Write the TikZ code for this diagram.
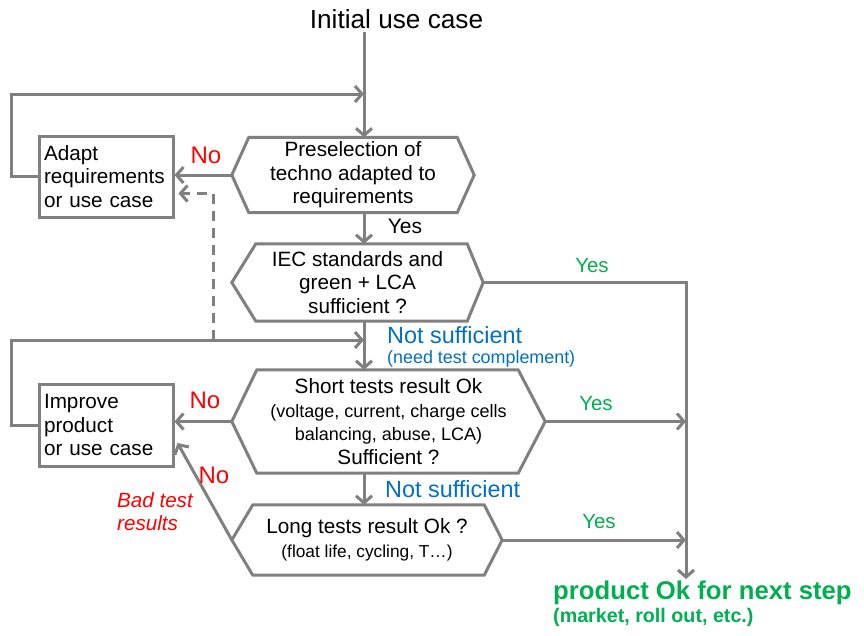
\documentclass[tikz,border=0pt]{standalone}
\usepackage{fontspec}
\setmainfont{Liberation Sans}
\usepackage{tikz}
\usetikzlibrary{arrows.meta,positioning}
\definecolor{mygray}{RGB}{128,128,128}
\definecolor{myred}{RGB}{255,0,0}
\definecolor{mygreen}{RGB}{0,176,80}
\definecolor{myblue}{RGB}{0,112,192}
\newcommand{\mainsize}{\fontsize{20.7}{23.5}\selectfont}
\newcommand{\notesize}{\fontsize{18}{23.5}\selectfont}

\begin{document}
\begin{tikzpicture}[x=1pt, y=-1pt,
    hexa/.style={inner sep=0pt, align=center, font=\mainsize},
    box/.style={rectangle, draw=mygray, line width=3pt, align=left, text width=124pt,
                inner xsep=5pt, inner ysep=0pt, font=\mainsize},
    hexline/.style={draw=mygray, line width=3pt, line join=miter},
    arr/.style={-{Straight Barb[length=7pt, width=16pt]}, mygray, line width=3pt},
    dasharr/.style={arr, dash pattern=on 10pt off 7pt},
    nolbl/.style={font=\fontsize{24}{28}\selectfont, text=myred},
    yeslbl/.style={font=\fontsize{20.5}{24}\selectfont, text=mygreen},
    insuf/.style={font=\fontsize{23.4}{28}\selectfont, text=myblue, anchor=base west, inner sep=0pt}]
\useasboundingbox (0,0) rectangle (864,635);
\coordinate (ax) at (364,0);
\coordinate (top1) at (364,94);
\coordinate (top2) at (364,340);
\coordinate (dsh) at (213,340);
\coordinate (goal) at (686,579);
\node[font=\fontsize{26.2}{30}\selectfont, anchor=base] (title) at (396.5,28) {Initial use case};
\node[hexa, minimum width=242pt, minimum height=75pt] (pre) at (353,175) {Preselection of\\techno adapted to\\requirements};
\node[hexa, minimum width=251pt, minimum height=77pt] (iec) at (357.5,282.5) {IEC standards and\\green + LCA\\sufficient ?};
\node[hexa, minimum width=313pt, minimum height=103pt] (short) at (388.5,421.5) {Short tests result Ok\\\notesize (voltage, current, charge cells\\\notesize balancing, abuse, LCA)\\\mainsize Sufficient ?};
\node[hexa, minimum width=270pt, minimum height=70pt] (long) at (367,540) {Long tests result Ok ?\\\fontsize{17.3}{23}\selectfont (float life, cycling, T…)};
\node[box, minimum height=81pt] (adapt) at (106,176.5) {Adapt\\requirements\\or use case};
\node[box, minimum height=82pt] (improve) at (106,425) {Improve\\product\\or use case};
\node[anchor=base west, inner sep=0pt, text=mygreen, font=\fontsize{25.7}{30}\selectfont\bfseries] (fin) at (553,599) {product Ok for next step};
\node[anchor=base west, inner sep=0pt, text=mygreen, font=\fontsize{19.7}{24}\selectfont\bfseries] (finsub) at (553,622) {(market, roll out, etc.)};
% hexagon outlines
\draw[hexline] ([xshift=17pt]pre.north west) -- ([xshift=-17pt]pre.north east) -- (pre.east) -- ([xshift=-17pt]pre.south east) -- ([xshift=17pt]pre.south west) -- (pre.west) -- cycle;
\draw[hexline] ([xshift=24pt]iec.north west) -- ([xshift=-16pt]iec.north east) -- (iec.east) -- ([xshift=-16pt]iec.south east) -- ([xshift=24pt]iec.south west) -- (iec.west) -- cycle;
\draw[hexline] ([xshift=25pt]short.north west) -- ([xshift=-27pt]short.north east) -- (short.east) -- ([xshift=-27pt]short.south east) -- ([xshift=25pt]short.south west) -- (short.west) -- cycle;
\draw[hexline] ([xshift=21pt]long.north west) -- ([xshift=-18pt]long.north east) -- (long.east) -- ([xshift=-18pt]long.south east) -- ([xshift=21pt]long.south west) -- (long.west) -- cycle;
% connectors
\draw[arr] (title.south -| ax) -- (pre.north -| ax);
\draw[arr] (pre.west) -- (pre.west -| adapt.east);
\node[nolbl] (no1) at (206,155) {No};
\draw[arr] (adapt.west) -- ++(-26,0) |- (top1);
\draw[dasharr] (dsh) |- ([shift={(4pt,-17pt)}]adapt.east);
\draw[arr] (pre.south -| ax) -- (iec.north -| ax);
\node[font=\fontsize{21}{24}\selectfont] (yes1) at (405,226) {Yes};
\draw[arr] (iec.east) -| (goal);
\node[yeslbl] (yes2) at (592,266) {Yes};
\draw[arr] (iec.south -| ax) -- (short.north -| ax);
\node[insuf] (ns1) at (387,343) {Not sufficient};
\node[anchor=base west, inner sep=0pt, text=myblue, font=\fontsize{17.9}{22}\selectfont] (need) at (387,363) {(need test complement)};
\draw[arr] (improve.west) -- ++(-26,0) |- (top2);
\draw[arr] (short.west) -- (short.west -| improve.east);
\node[nolbl] (no2) at (205,400) {No};
\draw[arr] (short.east) -- (short.east -| goal);
\node[yeslbl] (yes3) at (596,404) {Yes};
\draw[arr] (short.south -| ax) -- (long.north -| ax);
\node[insuf] (ns2) at (385,497) {Not sufficient};
\draw[arr] (long.east) -- (long.east -| goal);
\node[yeslbl] (yes4) at (599,522) {Yes};
\draw[arr] (long.west) -- ([shift={(3pt,-18pt)}]improve.east);
\node[nolbl] (no3) at (214,475) {No};
\node[anchor=west, inner sep=0pt, align=left, text=myred, font=\fontsize{20.6}{23}\selectfont\itshape] (bad) at (117,512) {Bad test\\results};
\end{tikzpicture}
\end{document}
